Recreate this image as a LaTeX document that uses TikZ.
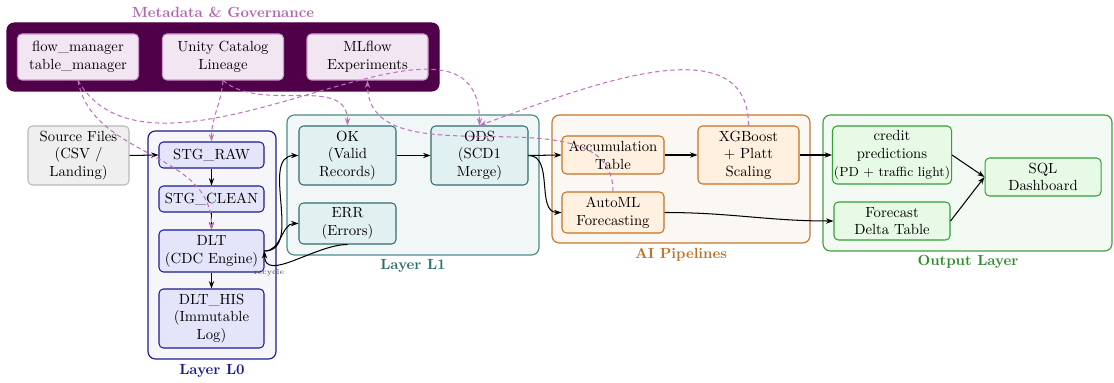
\documentclass[tikz,border=0pt]{standalone}
\usetikzlibrary{arrows.meta}
\definecolor{metagrp}{HTML}{500048}
\definecolor{metafill}{HTML}{F3E6F3}
\definecolor{metaedge}{HTML}{C99CC9}
\definecolor{metatitle}{HTML}{B266B2}
\definecolor{metaline}{HTML}{C070C0}
\definecolor{srcfill}{HTML}{EFEFEF}
\definecolor{srcedge}{HTML}{B8B8B8}
\definecolor{lzgrp}{HTML}{F5F5FA}
\definecolor{lzedge}{HTML}{1C1C8C}
\definecolor{lzfill}{HTML}{E4E4FA}
\definecolor{lograp}{HTML}{F1F6F6}
\definecolor{lograpedge}{HTML}{4F8A8A}
\definecolor{lofill}{HTML}{E1F0F0}
\definecolor{loedge}{HTML}{2F6E6E}
\definecolor{aigrp}{HTML}{FBF7F2}
\definecolor{aigrpedge}{HTML}{C8782E}
\definecolor{aifill}{HTML}{FFF0E0}
\definecolor{aiedge}{HTML}{C8701E}
\definecolor{aititle}{HTML}{C0722A}
\definecolor{outgrp}{HTML}{F3F9F3}
\definecolor{outgrpedge}{HTML}{3FA03F}
\definecolor{outfill}{HTML}{E6FAE6}
\definecolor{outedge}{HTML}{34A034}
\definecolor{outtitle}{HTML}{2E8B2E}
\tikzset{
  grp/.style 2 args={draw, rounded corners=5pt, line width=0.8pt, minimum width=#1*0.68pt, minimum height=#2*0.68pt, inner sep=0pt},
  bx/.style 2 args={draw, rounded corners=3pt, line width=0.7pt, minimum width=#1*0.68pt, minimum height=#2*0.68pt, align=center, inner sep=1pt},
  metanode/.style={fill=metafill, draw=metaedge},
  srcnode/.style={fill=srcfill, draw=srcedge},
  lznode/.style={fill=lzfill, draw=lzedge},
  lonode/.style={fill=lofill, draw=loedge},
  ainode/.style={fill=aifill, draw=aiedge},
  outnode/.style={fill=outfill, draw=outedge},
  grptitle/.style={font=\bfseries},
  flow/.style={draw=black, line width=0.7pt, -{Stealth[length=5pt,width=3.6pt]}},
  meta/.style={draw=metaline, line width=0.7pt, dash pattern=on 3pt off 2.2pt, -{Stealth[length=5pt,width=3.6pt]}},
}
\begin{document}
\begin{tikzpicture}[x=0.68pt,y=0.68pt]
\useasboundingbox (0,0) rectangle (1114,-383);
% groups
\node[grp={432}{68}, fill=metagrp, draw=metagrp] (gmeta) at (223,-57) {};
\node[grp={128}{228}, fill=lzgrp, draw=lzedge] (glz) at (212,-245) {};
\node[grp={252}{140}, fill=lograp, draw=lograpedge] (glo) at (413,-185) {};
\node[grp={258}{128}, fill=aigrp, draw=aigrpedge] (gai) at (681,-179) {};
\node[grp={289}{136}, fill=outgrp, draw=outgrpedge] (gout) at (967.5,-183) {};
% group titles
\node[grptitle, text=metatitle] (tmeta) at (223,-12) {Metadata \& Governance};
\node[grptitle, text=lzedge] (tlz) at (212,-371) {Layer L0};
\node[grptitle, text=loedge] (tlo) at (413,-266) {Layer L1};
\node[grptitle, text=aititle] (tai) at (681,-255) {AI Pipelines};
\node[grptitle, text=outtitle] (tout) at (968,-262) {Output Layer};
% metadata nodes
\node[bx={121}{46}, metanode] (fm) at (78,-57) {flow\_manager\\table\_manager};
\node[bx={121}{46}, metanode] (uc) at (223,-57) {Unity Catalog\\Lineage};
\node[bx={121}{46}, metanode] (mlf) at (367.5,-57) {MLflow\\Experiments};
% source
\node[bx={101}{59}, srcnode] (src) at (78.5,-155.5) {Source Files\\(CSV /\\Landing)};
% layer L0
\node[bx={105}{26}, lznode] (raw) at (211.5,-155) {STG\_RAW};
\node[bx={105}{26}, lznode] (clean) at (211.5,-199) {STG\_CLEAN};
\node[bx={105}{42}, lznode] (dlt) at (211.5,-251) {DLT\\(CDC Engine)};
\node[bx={105}{59}, lznode] (his) at (211.5,-318.5) {DLT\_HIS\\(Immutable\\Log)};
% layer L1
\node[bx={97}{59}, lonode] (ok) at (347.5,-155.5) {OK\\(Valid\\Records)};
\node[bx={97}{59}, lonode] (ods) at (479.5,-155.5) {ODS\\(SCD1\\Merge)};
\node[bx={97}{41}, lonode] (err) at (347.5,-223.5) {ERR\\(Errors)};
% AI
\node[bx={102}{38}, ainode] (acc) at (613,-155) {Accumulation\\Table};
\node[bx={101}{58}, ainode] (xgb) at (748.5,-155) {XGBoost\\+ Platt\\Scaling};
\node[bx={102}{41}, ainode] (aml) at (613,-212.5) {AutoML\\Forecasting};
% output
\node[bx={116}{58}, outnode] (cred) at (892,-155) {credit\\predictions\\{\small (PD + traffic light)}};
\node[bx={116}{38}, outnode] (fcst) at (892,-221) {Forecast\\Delta Table};
\node[bx={116}{38}, outnode] (sql) at (1043,-177) {SQL\\Dashboard};
\node[font=\tiny, text=black!70] (rcy) at (269,-273) {recycle};
% solid flows
\draw[flow] (src.east) -- (raw.west);
\draw[flow] (raw.south) -- (clean.north);
\draw[flow] (clean.south) -- (dlt.north);
\draw[flow] (dlt.south) -- (his.north);
\draw[flow] (dlt.east) to[out=0,in=180] (ok.west);
\draw[flow] (dlt.east) to[out=0,in=180] (err.west);
\draw[flow] (err.south) to[out=180,in=-90] (dlt.east);
\draw[flow] (ok.east) -- (ods.west);
\draw[flow] (ods.east) -- (acc.west);
\draw[flow] (ods.east) to[out=0,in=180] (aml.west);
\draw[flow] (acc.east) -- (xgb.west);
\draw[flow] (xgb.east) -- (cred.west);
\draw[flow] (aml.east) to[out=0,in=180] (fcst.west);
\draw[flow] (cred.east) -- (sql.west);
\draw[flow] (fcst.east) -- (sql.west);
% metadata links
\draw[meta] (fm.south) to[out=-80,in=90] (dlt.north);
\draw[meta] (fm.south) to[out=-60,in=90] (ods.north);
\draw[meta] (uc.south) to[out=-95,in=90] (raw.north);
\draw[meta] (uc.south) to[out=-40,in=90] (ok.north);
\draw[meta] (aml.north) to[out=90,in=-90] (mlf.south);
\draw[meta] (xgb.north) to[out=90,in=20] (ods.north);
\end{tikzpicture}
\end{document}
